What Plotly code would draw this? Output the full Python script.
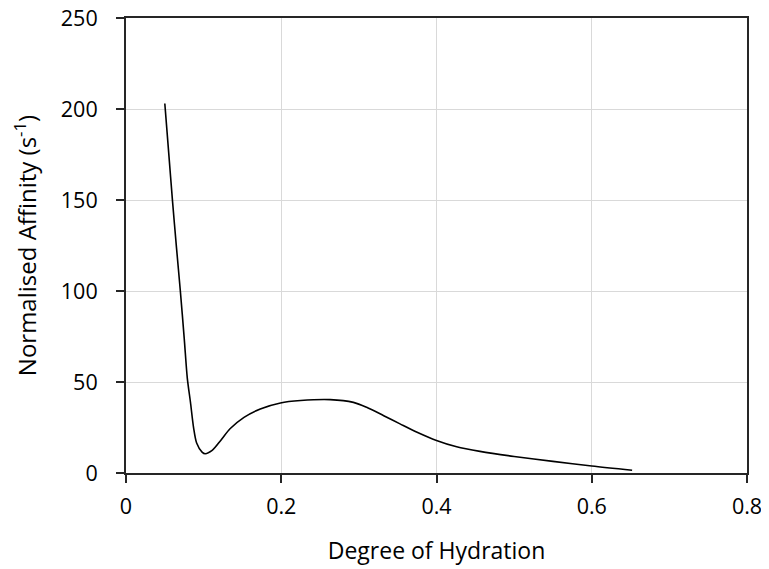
import plotly.graph_objects as go

hydration = [0.05, 0.055, 0.06, 0.065, 0.07, 0.075, 0.079, 0.083, 0.087, 0.091, 0.098, 0.102,
             0.111, 0.122, 0.134, 0.152, 0.173, 0.199, 0.225, 0.263, 0.293, 0.31, 0.332,
             0.353, 0.375, 0.4, 0.426, 0.456, 0.5, 0.55, 0.6, 0.652]
affinity = [203, 176, 149, 124, 100, 74, 52, 39, 25.1, 16.5, 11.5, 10.6,
            12.4, 17.9, 24.3, 30.6, 35.2, 38.5, 39.8, 40.3, 38.8, 36.1, 31.5,
            27, 22.4, 17.9, 14.4, 11.9, 9.1, 6.4, 3.8, 1.5]

x_ticks = [0, 0.2, 0.4, 0.6, 0.8]
x_tick_labels = ["0", "0.2", "0.4", "0.6", "0.8"]
y_ticks = [0, 50, 100, 150, 200, 250]

AXIS_COLOR = "#262626"

fig = go.Figure()
fig.add_trace(go.Scatter(
    x=hydration, y=affinity, mode="lines",
    line=dict(color="black", width=1.6, shape="spline", smoothing=0.8),
    showlegend=False,
))

axis_common = dict(
    showline=True, linecolor=AXIS_COLOR, linewidth=2, mirror=True,
    ticks="outside", ticklen=8, tickwidth=2, tickcolor=AXIS_COLOR,
    showgrid=True, gridcolor="#d9d9d9", gridwidth=1,
    zeroline=False, automargin=False, ticklabeloverflow="allow",
    tickfont=dict(family="Open Sans, sans-serif", size=21.5, color="black"),
)

fig.update_layout(
    width=761, height=561, autosize=False,
    margin=dict(l=118, r=22, t=10, b=96, pad=0),
    paper_bgcolor="white", plot_bgcolor="white",
    font=dict(family="Open Sans, sans-serif", color="black", size=22),
    xaxis=dict(
        range=[0, 0.8], tickvals=x_ticks, ticktext=x_tick_labels,
        ticklabelstandoff=5,
        title=dict(text="Degree of Hydration", font=dict(size=23), standoff=24),
        **axis_common,
    ),
    yaxis=dict(
        range=[0, 250], tickvals=y_ticks, ticklabelstandoff=14,
        title=dict(text="Normalised Affinity (s<sup>-1</sup>)", font=dict(size=24), standoff=28),
        **axis_common,
    ),
)

fig.write_html("out.html")
